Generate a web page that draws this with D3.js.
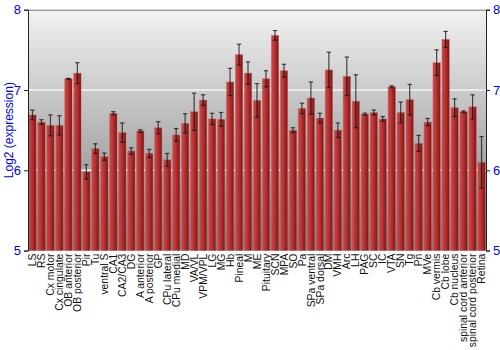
<!DOCTYPE html>
<html>
<head>
<meta charset="utf-8">
<script src="https://cdn.jsdelivr.net/npm/d3@7"></script>
<style>
  body { margin: 0; background: #fff; }
  text { font-family: "Liberation Sans", Arial, sans-serif; }
</style>
</head>
<body>
<svg id="chart"></svg>
<script>
// regions, in plot order
var regions = ['LS', 'RS', 'Cx motor', 'Cx cingulate', 'OB anterior', 'OB posterior', 'Pir', 'Tu',
  'ventral S', 'CA1', 'CA2/CA3', 'DG', 'A anterior', 'A posterior', 'GP', 'CPu lateral', 'CPu medial',
  'MD', 'VA/VL', 'VPM/VPL', 'LG', 'MG', 'Hb', 'Pineal', 'M', 'ME', 'Pituitary', 'SCN', 'MPA', 'SO',
  'Pa', 'SPa ventral', 'SPa dorsal', 'DM', 'VMH', 'Arc', 'LH', 'PAG', 'SC', 'IC', 'VTA', 'SN', 'Tg',
  'Pn', 'MVe', 'Cb vermis', 'Cb lobe', 'Cb nucleus', 'spinal cord anterior', 'spinal cord posterior', 'Retina'];

// log2 expression (mean)
var means = [6.69, 6.60, 6.56, 6.56, 7.14, 7.21, 5.98, 6.27,
  6.17, 6.71, 6.47, 6.24, 6.49, 6.21, 6.53, 6.13, 6.44,
  6.585, 6.73, 6.875, 6.64, 6.635, 7.10, 7.44, 7.21, 6.87, 7.14, 7.68, 7.24, 6.50,
  6.77, 6.90, 6.65, 7.25, 6.50, 7.17, 6.86, 6.70, 6.72, 6.64, 7.04, 6.72, 6.88,
  6.335, 6.60, 7.34, 7.63, 6.78, 6.73, 6.79, 6.10];

// error (+/-)
var errs = [0.06, 0.03, 0.13, 0.12, 0.005, 0.13, 0.09, 0.06,
  0.045, 0.02, 0.12, 0.04, 0.015, 0.05, 0.075, 0.08, 0.08,
  0.12, 0.23, 0.066, 0.07, 0.085, 0.17, 0.13, 0.14, 0.21, 0.10, 0.06, 0.08, 0.03,
  0.065, 0.20, 0.06, 0.22, 0.09, 0.24, 0.33, 0.012, 0.03, 0.03, 0.012, 0.13, 0.19,
  0.10, 0.045, 0.16, 0.10, 0.11, 0.01, 0.15, 0.32];

var yTicks = [5, 6, 7, 8];

var width = 500;
var height = 350;
var margin = {top: 9.7, right: 14, bottom: 99.4, left: 28};
var innerW = width - margin.left - margin.right;
var innerH = height - margin.top - margin.bottom;

var data = regions.map(function(r, i) { return {name: r, mean: means[i], err: errs[i]}; });

var svg = d3.select('#chart')
  .attr('width', width)
  .attr('height', height);

var defs = svg.append('defs');

// grey background, light at the top
var bg = defs.append('linearGradient').attr('id', 'bg')
  .attr('x1', 0).attr('y1', 0).attr('x2', 0).attr('y2', 1);
bg.append('stop').attr('offset', '0%').attr('stop-color', '#f2f2f2');
bg.append('stop').attr('offset', '100%').attr('stop-color', '#7c7c7c');

// red bars, shaded left to right
var barGrad = defs.append('linearGradient').attr('id', 'bar')
  .attr('x1', 0).attr('y1', 0).attr('x2', 1).attr('y2', 0);
barGrad.append('stop').attr('offset', '0%').attr('stop-color', '#cc4a4a');
barGrad.append('stop').attr('offset', '45%').attr('stop-color', '#b83232');
barGrad.append('stop').attr('offset', '100%').attr('stop-color', '#7a1616');

var g = svg.append('g').attr('transform', 'translate(' + margin.left + ',' + margin.top + ')');

var x = d3.scaleBand()
  .domain(regions)
  .range([0, innerW])
  .paddingInner(0.17)
  .paddingOuter(0.08);

var y = d3.scaleLinear()
  .domain([5, 8])
  .range([innerH, 0]);

g.append('rect')
  .attr('width', innerW)
  .attr('height', innerH)
  .attr('fill', 'url(#bg)');

// grid lines
g.selectAll('line.grid')
  .data([6, 7])
  .enter().append('line')
  .attr('class', 'grid')
  .attr('x1', 0).attr('x2', innerW)
  .attr('y1', function(d) { return y(d); })
  .attr('y2', function(d) { return y(d); })
  .attr('stroke', '#f4f4f4')
  .attr('stroke-width', 1.5);

// top border
g.append('line')
  .attr('x1', 0).attr('x2', innerW)
  .attr('y1', 0.5).attr('y2', 0.5)
  .attr('stroke', '#777');

g.selectAll('rect.bar')
  .data(data)
  .enter().append('rect')
  .attr('class', 'bar')
  .attr('x', function(d) { return x(d.name); })
  .attr('y', function(d) { return y(d.mean); })
  .attr('width', x.bandwidth())
  .attr('height', function(d) { return innerH - y(d.mean); })
  .attr('fill', 'url(#bar)')
  .attr('stroke', '#d46a6a')
  .attr('stroke-opacity', 0.6)
  .attr('stroke-width', 0.6);

// error bars
var eb = g.selectAll('g.err')
  .data(data)
  .enter().append('g')
  .attr('class', 'err')
  .attr('stroke', '#111')
  .attr('stroke-opacity', 0.75)
  .attr('stroke-width', 1.2);

eb.append('line')
  .attr('x1', function(d) { return x(d.name) + x.bandwidth() / 2; })
  .attr('x2', function(d) { return x(d.name) + x.bandwidth() / 2; })
  .attr('y1', function(d) { return y(d.mean + d.err); })
  .attr('y2', function(d) { return y(d.mean - d.err); });

eb.selectAll('line.cap')
  .data(function(d) { return [d.mean + d.err, d.mean - d.err].map(function(v) { return {name: d.name, v: v}; }); })
  .enter().append('line')
  .attr('class', 'cap')
  .attr('x1', function(d) { return x(d.name) + x.bandwidth() / 2 - 2.2; })
  .attr('x2', function(d) { return x(d.name) + x.bandwidth() / 2 + 2.2; })
  .attr('y1', function(d) { return y(d.v); })
  .attr('y2', function(d) { return y(d.v); });

// axes
var leftAxis = g.append('g')
  .call(d3.axisLeft(y).tickValues(yTicks).tickFormat(d3.format('d')).tickSize(4).tickPadding(3));
var rightAxis = g.append('g')
  .attr('transform', 'translate(' + innerW + ',0)')
  .call(d3.axisRight(y).tickValues(yTicks).tickFormat(d3.format('d')).tickSize(4).tickPadding(3));

[leftAxis, rightAxis].forEach(function(a) {
  a.select('.domain').attr('stroke', '#222');
  a.selectAll('.tick line').attr('stroke', '#222');
  a.selectAll('.tick text')
    .attr('fill', '#0000ff')
    .style('font-size', '13px');
});

// category labels, rotated
var xAxis = g.append('g')
  .attr('transform', 'translate(0,' + innerH + ')')
  .call(d3.axisBottom(x).tickSize(0).tickPadding(3));
xAxis.select('.domain').remove();
xAxis.selectAll('.tick text')
  .attr('transform', 'rotate(-90)')
  .attr('x', -3)
  .attr('y', 0)
  .attr('dy', '0.35em')
  .style('text-anchor', 'end')
  .style('font-size', '10.4px')
  .attr('fill', '#111');

svg.append('text')
  .attr('transform', 'translate(8.5,' + (margin.top + innerH / 2) + ') rotate(-90)')
  .attr('text-anchor', 'middle')
  .attr('dy', '0.35em')
  .attr('fill', '#0000ff')
  .style('font-size', '12px')
  .text('Log2 (expression)');
</script>
</body>
</html>
